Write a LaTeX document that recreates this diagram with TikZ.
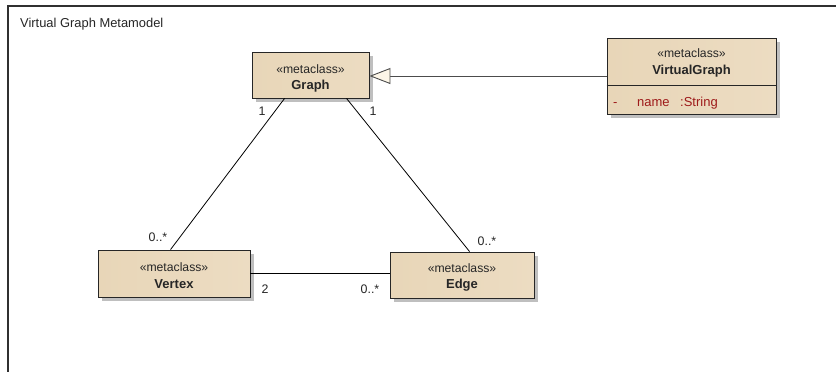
\documentclass[tikz,border=0pt]{standalone}
\usepackage{fontspec}
\setmainfont{Liberation Sans}
\usetikzlibrary{arrows.meta,shadows,calc}
\definecolor{tanL}{HTML}{E8D6B8}
\definecolor{tanM}{HTML}{FAF3E8}
\definecolor{tanR}{HTML}{ECDCC2}
\definecolor{cream}{HTML}{FDF6E8}
\definecolor{attrred}{HTML}{9E1A1A}
\definecolor{frame}{HTML}{303030}
\begin{document}
\begin{tikzpicture}[x=1pt,y=-1pt,
  cls/.style={draw=black!85, line width=0.9pt, inner sep=0pt,
    left color=tanL, middle color=tanM, right color=tanR, shading angle=90,
    drop shadow={shadow xshift=3.5pt, shadow yshift=-3.5pt, fill=black!25, opacity=1}},
  stereo/.style={font=\fontsize{12.2}{13}\selectfont, inner sep=0pt, text=black!85},
  cname/.style={font=\fontsize{13}{14}\selectfont\bfseries, inner sep=0pt, text=black!85},
  mult/.style={font=\fontsize{12.4}{13}\selectfont, inner sep=0pt, text=black!85},
  assoc/.style={draw=black, line width=0.8pt},
  gen/.style={draw=black!70, line width=1pt, -{Triangle[length=21pt,width=16pt,fill=cream,line width=0.9pt]}},
  attr/.style={font=\fontsize{13}{14}\selectfont, inner sep=0pt, text=attrred, anchor=base west}
]
\useasboundingbox (0,0) rectangle (836,372);
\fill[white] (0,0) rectangle (836,372);
% frame
\draw[frame, line width=1.4pt] (8,372) -- (8,6) -- (836,6);
\node[font=\fontsize{12.9}{14}\selectfont, anchor=west, inner sep=0pt, text=black!85] (title) at (20,24) {Virtual Graph Metamodel};

% classes
\node[cls, minimum width=117pt, minimum height=46pt] (graph) at (310.5,75) {};
\node[stereo] (graphS) at ($(graph.north)+(0,18)$) {«metaclass»};
\node[cname] (graphN) at ($(graph.north)+(0,35)$) {Graph};

\node[cls, minimum width=169pt, minimum height=76pt] (vg) at (691.5,76) {};
\node[stereo] (vgS) at ($(vg.north)+(0,16)$) {«metaclass»};
\node[cname] (vgN) at ($(vg.north)+(0,34)$) {VirtualGraph};
\draw[black!85, line width=0.9pt] ($(vg.north west)+(0,48)$) coordinate (divL) -- ($(vg.north east)+(0,48)$) coordinate (divR);
\node[attr] (vgDash) at (613,106) {-};
\node[attr] (vgName) at (637,106) {name};
\node[attr] (vgType) at (680,106) {:String};

\node[cls, minimum width=152pt, minimum height=47pt] (vertex) at (174,273.5) {};
\node[stereo] (vertexS) at ($(vertex.north)+(0,18)$) {«metaclass»};
\node[cname] (vertexN) at ($(vertex.north)+(0,35)$) {Vertex};

\node[cls, minimum width=144pt, minimum height=46pt] (edge) at (462,275) {};
\node[stereo] (edgeS) at ($(edge.north)+(0,17)$) {«metaclass»};
\node[cname] (edgeN) at ($(edge.north)+(0,34)$) {Edge};

% connectors
\draw[gen] (vg.west) -- (vg.west -| graph.east);
\coordinate (gv) at ($(graph.south west)+(33,0)$);
\coordinate (vg2) at ($(vertex.north west)+(73,0)$);
\draw[assoc] (gv) -- (vg2);
\coordinate (ge) at ($(graph.south west)+(95,0)$);
\coordinate (eg) at ($(edge.north west)+(80,0)$);
\draw[assoc] (ge) -- (eg);
\draw[assoc] (vertex.east) -- (vertex.east -| edge.west);

% multiplicities
\node[mult] (m1) at (262,111) {1};
\node[mult] (m2) at (373,111) {1};
\node[mult] (m3) at (158,237) {0..*};
\node[mult] (m4) at (487,241) {0..*};
\node[mult] (m5) at (265,289) {2};
\node[mult] (m6) at (370,289) {0..*};
\end{tikzpicture}
\end{document}
